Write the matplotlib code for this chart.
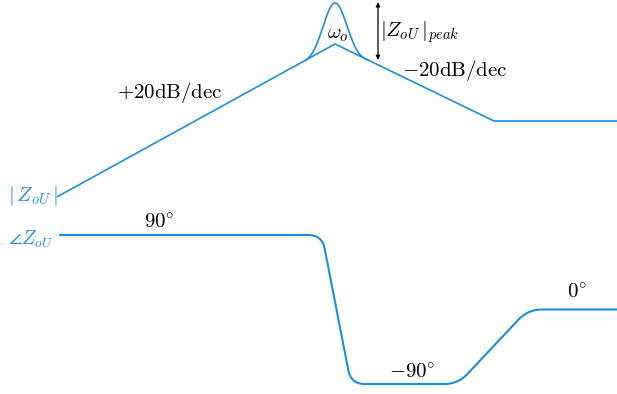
import numpy as np
import matplotlib
matplotlib.use("Agg")
import matplotlib.pyplot as plt

plt.rcParams["mathtext.fontset"] = "cm"
plt.rcParams["font.family"] = ["DejaVu Serif"]

BLUE = "#1a8fe3"

# Frequency axis: log10(w / w_o), 1 decade = 100 px
x_lo, x_hi = -3.35, 2.82

# Magnitude asymptotes (dB) and resonance peak
mag_logw = [-2.78, 0.0, 1.59, 2.82]
mag_db = [-55.6, 0.0, -28.0, -28.0]
peak_db = 14.9
peak_feet = [-0.30, 0.32]      # where the resonance leaves the asymptotes

# Phase asymptotes (degrees)
phase_logw = [-2.75, -0.13, 0.16, 1.23, 1.93, 2.82]
phase_deg = [90, 90, -90, -90, 0, 0]


def rounded_path(xs, ys, r=14.0, n=30):
    """Polyline with smoothly rounded corners (quadratic Bezier at each vertex)."""
    P = np.column_stack([xs, ys]).astype(float)
    out = [P[0]]
    for i in range(1, len(P) - 1):
        a, v, b = P[i - 1], P[i], P[i + 1]
        la, lb = np.linalg.norm(v - a), np.linalg.norm(b - v)
        rr = min(r, 0.45 * la, 0.45 * lb)
        p0 = v + (a - v) / la * rr
        p2 = v + (b - v) / lb * rr
        t = np.linspace(0, 1, n)[:, None]
        curve = (1 - t) ** 2 * p0 + 2 * (1 - t) * t * v + t ** 2 * p2
        out.extend(curve)
    out.append(P[-1])
    return np.array(out)


fig = plt.figure(figsize=(6.17, 3.94), dpi=100)

# Magnitude axes (dB): 2.75 px per dB, 0 dB at 44 px from top
ax_m = fig.add_axes([0, 0, 1, 1])
ax_m.set_xlim(x_lo, x_hi)
ax_m.set_ylim(16 - 394 / 2.75, 16)
ax_m.axis("off")

# Phase axes (deg), overlaid on the same frame
PH0, PHS = 309.5, 0.828          # px of 0 deg, px per degree
ax_p = fig.add_axes([0, 0, 1, 1], sharex=ax_m)
ax_p.set_ylim((PH0 - 394) / PHS, PH0 / PHS)
ax_p.axis("off")
ax_p.patch.set_alpha(0)

# Magnitude asymptotes
ax_m.plot(mag_logw, mag_db, color=BLUE, lw=1.2, solid_capstyle="butt")

# Resonance bump around w_o
xb = np.linspace(peak_feet[0], peak_feet[1], 300)
base = np.interp(xb, mag_logw, mag_db)
feet_db = np.interp(peak_feet, mag_logw, mag_db)
lin = np.interp(xb, peak_feet, feet_db)
w = 0.17
g = np.exp(-(xb / w) ** 2)
half = np.where(xb < 0, abs(peak_feet[0]), abs(peak_feet[1]))
g0 = np.exp(-(half / w) ** 2)
g = np.clip((g - g0) / (1 - g0), 0, None)
bump = lin + (peak_db - np.interp(0, peak_feet, feet_db)) * g
bump = np.maximum(bump, base)
ax_m.plot(xb, bump, color=BLUE, lw=1.2)

# Phase curve with rounded corners (rounded in pixel space)
px = (np.array(phase_logw) - x_lo) * 100
py = PH0 - np.array(phase_deg) * PHS
pr = rounded_path(px, py, r=14)
ax_p.plot(pr[:, 0] / 100 + x_lo, (PH0 - pr[:, 1]) / PHS,
          color=BLUE, lw=1.5)

# Peak height arrow
ax_m.annotate("", xy=(0.43, peak_db + 0.3), xytext=(0.43, -5.8),
              arrowprops=dict(arrowstyle="<|-|>", color="black", lw=0.9,
                              mutation_scale=6, shrinkA=0, shrinkB=0))

ts = 15
ax_m.text(0.03, 3.3, r"$\omega_o$", fontsize=ts, ha="center", va="center")
ax_m.text(0.445, 4.4, r"$|Z_{oU}\,|_{peak}$", fontsize=ts,
          ha="left", va="center")
ax_m.text(0.67, -9.8, r"$-20\mathrm{dB/dec}$", fontsize=ts,
          ha="left", va="center")
ax_m.text(-2.18, -17.8, r"$+20\mathrm{dB/dec}$", fontsize=ts,
          ha="left", va="center")
ax_m.text(-3.02, -55.4, r"$|\,Z_{oU}\,|$", fontsize=ts, color=BLUE,
          ha="center", va="center")
ax_p.text(-3.04, 90 - 5, r"$\angle Z_{oU}$", fontsize=ts - 1, color=BLUE,
          ha="center", va="center")

ax_p.text(-1.76, 90 + 15, r"$90^{\circ}$", fontsize=ts, ha="center", va="center")
ax_p.text(0.77, -90 + 14, r"$-90^{\circ}$", fontsize=ts, ha="center", va="center")
ax_p.text(2.42, 0 + 20, r"$0^{\circ}$", fontsize=ts, ha="center", va="center")

fig.savefig("out.png", dpi=100, facecolor="white")
